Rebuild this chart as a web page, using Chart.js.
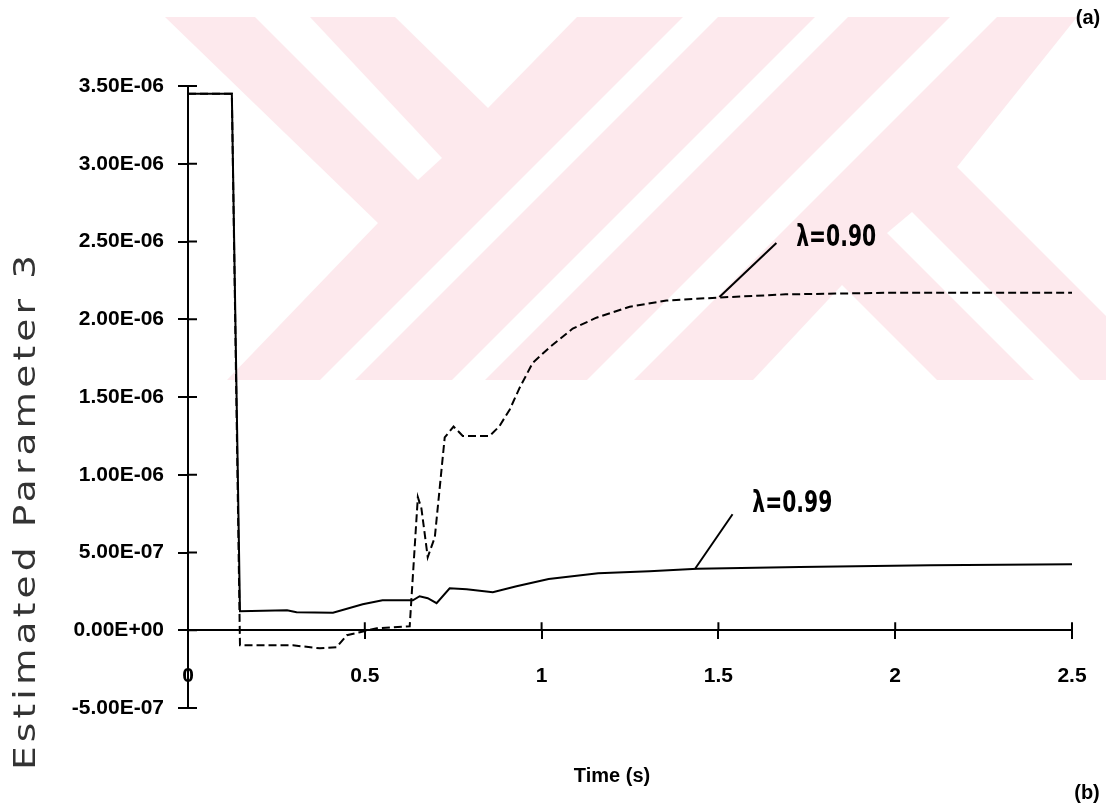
<!DOCTYPE html>
<html><head><meta charset="utf-8">
<script src="https://cdn.jsdelivr.net/npm/chart.js@4.4.1/dist/chart.umd.min.js"></script>
<style>html,body{margin:0;padding:0;background:#fff;}#wrap{width:1106px;height:804px;position:relative;}</style>
</head><body><div id="wrap"><canvas id="c" width="1106" height="804"></canvas></div>
<script>
// ---- data ----
const timeL099 = [0, 0.124, 0.147, 0.28, 0.307, 0.41, 0.494, 0.55, 0.636, 0.655, 0.678, 0.703, 0.74, 0.788, 0.862, 0.929, 1.02, 1.16, 1.305, 1.44, 1.73, 2.1, 2.5];
const paramL099 = [3.45e-6, 3.45e-6, 1.22e-7, 1.29e-7, 1.16e-7, 1.13e-7, 1.67e-7, 1.93e-7, 1.93e-7, 2.19e-7, 2.06e-7, 1.74e-7, 2.7e-7, 2.64e-7, 2.45e-7, 2.83e-7, 3.3e-7, 3.67e-7, 3.8e-7, 3.95e-7, 4.07e-7, 4.18e-7, 4.25e-7];
const timeL090 = [0, 0.124, 0.147, 0.297, 0.373, 0.42, 0.449, 0.486, 0.534, 0.627, 0.65, 0.66, 0.678, 0.698, 0.726, 0.751, 0.777, 0.853, 0.88, 0.91, 0.938, 0.975, 1.023, 1.088, 1.155, 1.249, 1.353, 1.503, 1.69, 1.975, 2.5];
const paramL090 = [3.45e-6, 3.45e-6, -9.7e-8, -9.7e-8, -1.16e-7, -1.1e-7, -3.2e-8, -1.3e-8, 1.3e-8, 2.6e-8, 8.56e-7, 7.85e-7, 4.7e-7, 5.98e-7, 1.24e-6, 1.31e-6, 1.25e-6, 1.25e-6, 1.31e-6, 1.42e-6, 1.56e-6, 1.72e-6, 1.82e-6, 1.94e-6, 2.01e-6, 2.08e-6, 2.12e-6, 2.14e-6, 2.16e-6, 2.17e-6, 2.17e-6];
const xTickLabels = ['0', '0.5', '1', '1.5', '2', '2.5'];
const yTickLabels = ['-5.00E-07', '0.00E+00', '5.00E-07', '1.00E-06', '1.50E-06', '2.00E-06', '2.50E-06', '3.00E-06', '3.50E-06'];
const seriesNames = ['λ=0.99', 'λ=0.90'];
const xTitle = 'Time (s)';
const yTitle = 'Estimated Parameter 3';
const panelLabels = ['(a)', '(b)'];

// annotation leader lines (in data units)
const leaders = [
  { name: seriesNames[0], from: [1.435, 3.99e-7], to: [1.54, 7.46e-7], text: [1.596, 8.1e-7] },
  { name: seriesNames[1], from: [1.503, 2.143e-6], to: [1.664, 2.49e-6], text: [1.72, 2.52e-6] }
];

const toPts = (xs, ys) => xs.map((x, i) => ({ x: x, y: ys[i] }));

const PINK = '#fde9ed';
function poly(ctx, pts, color) {
  ctx.beginPath();
  ctx.moveTo(pts[0][0], pts[0][1]);
  for (let i = 1; i < pts.length; i++) ctx.lineTo(pts[i][0], pts[i][1]);
  ctx.closePath();
  ctx.fillStyle = color;
  ctx.fill();
}

const decor = {
  id: 'decor',
  beforeDraw(chart) {
    const ctx = chart.ctx;
    ctx.save();
    ctx.fillStyle = '#fff';
    ctx.fillRect(0, 0, chart.width, chart.height);
    // watermark background
    ctx.beginPath();
    ctx.rect(0, 17, chart.width, 363);
    ctx.clip();
    poly(ctx, [[165,17],[1077,17],[957,167],[1106,316],[1106,380],[227,380],[378,223]], PINK);
    poly(ctx, [[255,17],[310,17],[442,158],[418,180]], '#fff');
    poly(ctx, [[395,17],[488,108],[577,17]], '#fff');
    poly(ctx, [[683,17],[718,17],[355,380],[320,380]], '#fff');
    poly(ctx, [[815,17],[848,17],[485,380],[452,380]], '#fff');
    poly(ctx, [[950,17],[997,17],[634,380],[587,380]], '#fff');
    poly(ctx, [[753,380],[842,285],[937,380]], '#fff');
    poly(ctx, [[887,233],[912,212],[1080,380],[1034,380]], '#fff');
    ctx.restore();
  },
  afterDraw(chart) {
    const ctx = chart.ctx;
    const xs = chart.scales.x, ys = chart.scales.y;
    ctx.save();
    ctx.strokeStyle = '#000';
    ctx.lineWidth = 2;
    // inward halves of the crossing tick marks
    const x0 = xs.getPixelForValue(0);
    ys.ticks.forEach(t => {
      const py = ys.getPixelForValue(t.value);
      ctx.beginPath(); ctx.moveTo(x0, py); ctx.lineTo(x0 + 9, py); ctx.stroke();
    });
    const y0 = ys.getPixelForValue(0);
    xs.ticks.forEach(t => {
      const px = xs.getPixelForValue(t.value);
      ctx.beginPath(); ctx.moveTo(px, y0); ctx.lineTo(px, y0 - 8); ctx.stroke();
    });
    // leader lines + series labels (condensed)
    ctx.fillStyle = '#000';
    leaders.forEach(l => {
      ctx.beginPath();
      ctx.moveTo(xs.getPixelForValue(l.from[0]), ys.getPixelForValue(l.from[1]));
      ctx.lineTo(xs.getPixelForValue(l.to[0]), ys.getPixelForValue(l.to[1]));
      ctx.stroke();
      ctx.save();
      ctx.font = 'bold 30px "DejaVu Sans", sans-serif';
      ctx.textAlign = 'left';
      ctx.textBaseline = 'middle';
      const w = ctx.measureText(l.name).width;
      ctx.translate(xs.getPixelForValue(l.text[0]), ys.getPixelForValue(l.text[1]));
      ctx.scale(80 / w, 1);
      ctx.fillText(l.name, 0, 0);
      ctx.restore();
    });
    // axis titles and panel labels
    ctx.font = 'bold 20px "Liberation Sans", Arial, sans-serif';
    ctx.textAlign = 'center';
    ctx.textBaseline = 'middle';
    ctx.fillText(xTitle, 612, 776);
    ctx.fillText(panelLabels[0], 1088, 18);
    ctx.fillText(panelLabels[1], 1087, 793);
    // y title: wide, lightly spaced
    ctx.save();
    ctx.translate(35, 513);
    ctx.rotate(-Math.PI / 2);
    const sx = 1.25;
    ctx.scale(sx, 1);
    ctx.font = '30px "DejaVu Sans", sans-serif';
    ctx.fillStyle = '#333';
    ctx.textBaseline = 'alphabetic';
    ctx.letterSpacing = '0px';
    const w = ctx.measureText(yTitle).width;
    const ls = Math.max(0, (515 / sx - w) / (yTitle.length - 1));
    ctx.letterSpacing = ls.toFixed(2) + 'px';
    ctx.textAlign = 'left';
    ctx.fillText(yTitle, -257 / sx, 0);
    ctx.restore();
    ctx.restore();
  }
};

new Chart(document.getElementById('c'), {
  type: 'line',
  data: {
    datasets: [
      { label: seriesNames[1], data: toPts(timeL090, paramL090), borderColor: '#000', borderWidth: 2, borderDash: [8, 4], pointRadius: 0, tension: 0, fill: false },
      { label: seriesNames[0], data: toPts(timeL099, paramL099), borderColor: '#000', borderWidth: 2, pointRadius: 0, tension: 0, fill: false }
    ]
  },
  options: {
    responsive: false,
    animation: false,
    devicePixelRatio: 1,
    layout: { padding: { left: 60, top: 86, right: 34, bottom: 96 } },
    plugins: { legend: { display: false }, tooltip: { enabled: false }, title: { display: false } },
    scales: {
      x: {
        type: 'linear',
        position: { y: 0 },
        min: 0, max: 2.5,
        afterFit: s => { s.paddingLeft = 0; s.paddingRight = 0; },
        grid: { drawOnChartArea: false, drawTicks: true, tickLength: 8, color: '#000', lineWidth: 2 },
        border: { color: '#000', width: 2 },
        ticks: {
          stepSize: 0.5,
          padding: 25,
          maxRotation: 0,
          color: '#000',
          font: { family: '"Liberation Sans", Arial, sans-serif', size: 21, weight: 'bold' },
          callback: (v, i) => xTickLabels[i]
        }
      },
      y: {
        type: 'linear',
        position: 'left',
        min: -5e-7, max: 3.5e-6,
        afterFit: s => { s.width = 128; },
        grid: { drawOnChartArea: false, drawTicks: true, tickLength: 10, color: '#000', lineWidth: 2 },
        border: { color: '#000', width: 2 },
        ticks: {
          stepSize: 5e-7,
          padding: 14,
          color: '#000',
          font: { family: '"Liberation Sans", Arial, sans-serif', size: 21, weight: 'bold' },
          callback: (v, i) => yTickLabels[i]
        }
      }
    }
  },
  plugins: [decor]
});
</script></body></html>
